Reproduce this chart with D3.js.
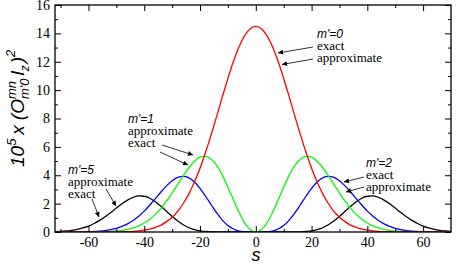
<!DOCTYPE html>
<html>
<head>
<meta charset="utf-8">
<script src="https://cdn.jsdelivr.net/npm/d3@7"></script>
<style>
body { margin: 0; background: #fff; }
svg { display: block; }
.tk path { display: none; }
.tk line { stroke: #000; stroke-width: 1; }
.note { font-family: "Liberation Serif", "Times New Roman", "DejaVu Serif", serif; font-size: 13px; }
.mlab { font-family: "Liberation Sans", Arial, sans-serif; font-style: italic; font-size: 12px; }
</style>
</head>
<body>
<svg id="chart" width="457" height="264"></svg>
<script>
// s grid
const sVals = [-72, -70, -68, -66, -64, -62, -60, -58, -56, -54, -52, -50, -48, -46, -44, -42, -40, -38,
	-36, -34, -32, -30, -28, -26, -24, -22, -20, -18, -16, -14, -12, -10, -8, -6, -4, -2,
	0, 2, 4, 6, 8, 10, 12, 14, 16, 18, 20, 22, 24, 26, 28, 30, 32, 34,
	36, 38, 40, 42, 44, 46, 48, 50, 52, 54, 56, 58, 60, 62, 64, 66, 68, 70];

// m'=0 (red)
const m0 = [0, 0, 0, 0, 0, 0, 0, 0, 0, 0, 0.01, 0.01, 0.02, 0.03, 0.05, 0.08, 0.13, 0.21,
	0.33, 0.49, 0.73, 1.04, 1.46, 2.01, 2.69, 3.52, 4.50, 5.62, 6.86, 8.17, 9.52, 10.82, 12.03, 13.05, 13.84, 14.33,
	14.50, 14.33, 13.84, 13.05, 12.03, 10.82, 9.52, 8.17, 6.86, 5.62, 4.50, 3.52, 2.69, 2.01, 1.46, 1.04, 0.73, 0.49,
	0.33, 0.21, 0.13, 0.08, 0.05, 0.03, 0.02, 0.01, 0.01, 0, 0, 0, 0, 0, 0, 0, 0, 0];

// m'=1 (green)
const m1 = [0, 0, 0, 0, 0, 0, 0, 0.01, 0.01, 0.02, 0.04, 0.07, 0.12, 0.18, 0.29, 0.43, 0.63, 0.90,
	1.24, 1.67, 2.17, 2.75, 3.36, 3.97, 4.53, 4.98, 5.27, 5.33, 5.13, 4.69, 4.01, 3.16, 2.25, 1.37, 0.65, 0.17,
	0, 0.17, 0.65, 1.37, 2.25, 3.16, 4.01, 4.69, 5.13, 5.33, 5.27, 4.98, 4.53, 3.97, 3.36, 2.75, 2.17, 1.67,
	1.24, 0.90, 0.63, 0.43, 0.29, 0.18, 0.12, 0.07, 0.04, 0.02, 0.01, 0.01, 0, 0, 0, 0, 0, 0];

// m'=2 (blue)
const m2 = [0, 0, 0, 0, 0.01, 0.01, 0.02, 0.04, 0.06, 0.10, 0.17, 0.26, 0.39, 0.57, 0.81, 1.11, 1.47, 1.90,
	2.35, 2.82, 3.25, 3.61, 3.85, 3.92, 3.82, 3.53, 3.08, 2.52, 1.92, 1.34, 0.84, 0.46, 0.21, 0.07, 0.02, 0,
	0, 0, 0.02, 0.07, 0.21, 0.46, 0.84, 1.34, 1.92, 2.52, 3.08, 3.53, 3.82, 3.92, 3.85, 3.61, 3.25, 2.82,
	2.35, 1.90, 1.47, 1.11, 0.81, 0.57, 0.39, 0.26, 0.17, 0.10, 0.06, 0.04, 0.02, 0.01, 0.01, 0, 0, 0];

// m'=5 (black)
const m5 = [0.03, 0.04, 0.07, 0.12, 0.19, 0.29, 0.42, 0.60, 0.82, 1.08, 1.37, 1.69, 1.99, 2.25, 2.44, 2.54, 2.52, 2.38,
	2.13, 1.81, 1.46, 1.10, 0.77, 0.51, 0.30, 0.17, 0.08, 0.04, 0.01, 0, 0, 0, 0, 0, 0, 0,
	0, 0, 0, 0, 0, 0, 0, 0, 0.01, 0.04, 0.08, 0.17, 0.30, 0.51, 0.77, 1.10, 1.46, 1.81,
	2.13, 2.38, 2.52, 2.54, 2.44, 2.25, 1.99, 1.69, 1.37, 1.08, 0.82, 0.60, 0.42, 0.29, 0.19, 0.12, 0.07, 0.04];

const xMajor = [-60, -40, -20, 0, 20, 40, 60];
const xMinor = [-70, -50, -30, -10, 10, 30, 50];
const yMajor = [0, 2, 4, 6, 8, 10, 12, 14, 16];
const yMinor = [1, 3, 5, 7, 9, 11, 13, 15];

const series = [
	{ name: "m'=5", vals: m5, color: '#000000' },
	{ name: "m'=2", vals: m2, color: '#0000ff' },
	{ name: "m'=1", vals: m1, color: '#00ff00' },
	{ name: "m'=0", vals: m0, color: '#ff0000' }
];

const x = d3.scaleLinear().domain([-72, 70]).range([55, 451]);
const y = d3.scaleLinear().domain([0, 16]).range([232, 5]);
const svg = d3.select('#chart');

svg.append('defs').append('clipPath').attr('id', 'clip')
	.append('rect').attr('x', 55).attr('y', 5).attr('width', 396).attr('height', 227);

const line = d3.line()
	.x((d, i) => x(sVals[i]))
	.y(d => y(d))
	.curve(d3.curveMonotoneX);

svg.append('g').attr('clip-path', 'url(#clip)')
	.selectAll('path')
	.data(series)
	.enter()
	.append('path')
		.attr('d', d => line(d.vals))
		.attr('fill', 'none')
		.attr('stroke', d => d.color)
		.attr('stroke-width', 1.3);

// axes, ticks inward on all sides
const fmt = d => String(d);
function axis (gen, tx, ty) {
	const g = svg.append('g').attr('class', 'tk')
		.attr('transform', `translate(${tx},${ty})`)
		.call(gen);
	g.selectAll('text')
		.style('font-family', '"Liberation Serif", "Times New Roman", "DejaVu Serif", serif')
		.style('font-size', '14px')
		.style('fill', '#000');
	return g;
}
axis(d3.axisBottom(x).tickValues(xMajor).tickSize(-6).tickPadding(5).tickFormat(fmt), 0, 232);
axis(d3.axisBottom(x).tickValues(xMinor).tickSize(-3).tickFormat(''), 0, 232);
axis(d3.axisTop(x).tickValues(xMajor).tickSize(-6).tickFormat(''), 0, 5);
axis(d3.axisTop(x).tickValues(xMinor).tickSize(-3).tickFormat(''), 0, 5);
axis(d3.axisLeft(y).tickValues(yMajor).tickSize(-6).tickPadding(5).tickFormat(fmt), 55, 0);
axis(d3.axisLeft(y).tickValues(yMinor).tickSize(-3).tickFormat(''), 55, 0);
axis(d3.axisRight(y).tickValues(yMajor).tickSize(-6).tickFormat(''), 451, 0);
axis(d3.axisRight(y).tickValues(yMinor).tickSize(-3).tickFormat(''), 451, 0);

svg.append('rect')
	.attr('x', 55).attr('y', 5).attr('width', 396).attr('height', 227)
	.attr('fill', 'none').attr('stroke', '#000').attr('stroke-width', 1.3);

// x label
svg.append('text')
	.attr('x', 256).attr('y', 261)
	.attr('text-anchor', 'middle')
	.style('font-family', '"Liberation Sans", Arial, sans-serif')
	.style('font-style', 'italic')
	.style('font-size', '18px')
	.text('s');

// y label: 10^5 x (O^{mn}_{m'0} l_z)^2
const yl = svg.append('g').attr('transform', 'translate(24,167) rotate(-90)')
	.style('font-family', '"Liberation Sans", Arial, sans-serif')
	.style('font-style', 'italic');
let cx = 0;
function piece (t, size, dy, advance = true) {
	const el = yl.append('text').attr('x', cx).attr('y', dy).style('font-size', size + 'px').text(t);
	const w = el.node().getComputedTextLength();
	if (advance) cx += w;
	return w;
}
piece('10', 19, 0);
piece('5', 13, -8);
cx += 4;
piece('x', 19, 0);
cx += 5;
piece('(', 19, 0);
piece('O', 19, 0);
const wa = piece('mn', 13, -8, false);
const wb = piece("m'0", 13, 5, false);
cx += Math.max(wa, wb) + 3;
piece('l', 19, 0);
piece('z', 12, 5);
cx += 2;
piece(')', 19, 0);
piece('2', 13, -9);

// annotations
const defs = svg.select('defs');
defs.append('marker')
	.attr('id', 'ah').attr('viewBox', '0 0 10 10')
	.attr('refX', 10).attr('refY', 5)
	.attr('markerWidth', 7).attr('markerHeight', 5)
	.attr('orient', 'auto').attr('markerUnits', 'userSpaceOnUse')
	.append('path').attr('d', 'M0,0L10,5L0,10z').attr('fill', '#000');

const notes = [
	{ x: 317, y: 38, lab: "m'=0", l1: 'exact', l2: 'approximate' },
	{ x: 128, y: 123, lab: "m'=1", l1: 'approximate', l2: 'exact' },
	{ x: 366, y: 167, lab: "m'=2", l1: 'exact', l2: 'approximate' },
	{ x: 68, y: 174, lab: "m'=5", l1: 'approximate', l2: 'exact' }
];
notes.forEach(n => {
	svg.append('text').attr('class', 'mlab').attr('x', n.x).attr('y', n.y).text(n.lab);
	svg.append('text').attr('class', 'note').attr('x', n.x).attr('y', n.y + 12).text(n.l1);
	svg.append('text').attr('class', 'note').attr('x', n.x).attr('y', n.y + 23.5).text(n.l2);
});

const arrows = [
	[313, 47, 278, 53], [313, 59, 282, 64.5],
	[162, 145, 193, 155], [160, 152, 188, 165],
	[364, 177, 344, 182], [364, 187, 346, 192],
	[106, 189, 116, 206], [92, 199, 99, 217]
];
svg.append('g').selectAll('line')
	.data(arrows)
	.enter()
	.append('line')
		.attr('x1', d => d[0]).attr('y1', d => d[1])
		.attr('x2', d => d[2]).attr('y2', d => d[3])
		.attr('stroke', '#000').attr('stroke-width', 0.8)
		.attr('marker-end', 'url(#ah)');
</script>
</body>
</html>
